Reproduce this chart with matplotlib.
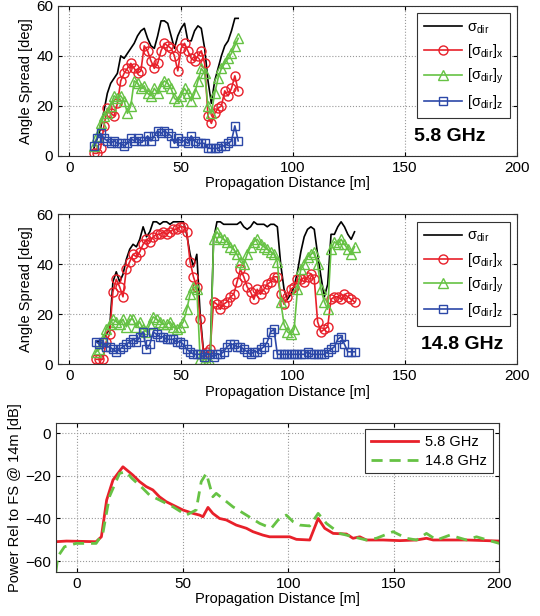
import matplotlib
matplotlib.use('Agg')
import numpy as np
from matplotlib import pyplot as plt

plt.rcParams['font.family'] = ['Liberation Sans', 'DejaVu Sans']
plt.rcParams['mathtext.default'] = 'regular'
plt.rcParams['font.size'] = 10

# 5.8 GHz angle spread
d_58 = [11, 12.5, 14, 15.5, 17, 18.5, 20, 21.5, 23, 24.5, 26, 27.5, 29, 30.5, 32, 33.5, 35, 36.5, 38, 39.5,
        41, 42.5, 44, 45.5, 47, 48.5, 50, 51.5, 53, 54.5, 56, 57.5, 59, 60.5, 62, 63.5, 65, 66.5, 68, 69.5,
        71, 72.5, 74, 75.5]
sig_58 = [3, 7, 11, 18, 25, 29, 31, 33, 40, 39, 41, 43, 45, 48, 50, 51, 47, 44, 43, 48,
          54, 54, 53, 48, 43, 48, 51, 53, 46, 46, 50, 52, 51, 43, 30, 21, 30, 35, 40, 44,
          46, 50, 55, 55]
sx_58 = [1, 1, 3, 12, 19, 17, 16, 21, 30, 33, 35, 37, 35, 33, 34, 44, 42, 38, 35, 37,
         42, 45, 44, 43, 40, 34, 43, 45, 42, 39, 38, 40, 42, 37, 16, 13, 17, 19, 20, 26,
         24, 27, 32, 26]
sy_58 = [4, 8, 13, 16, 17, 20, 24, 23, 24, 22, 17, 20, 30, 29, 27, 28, 25, 24, 27, 25,
         28, 30, 29, 27, 23, 22, 24, 27, 25, 22, 25, 30, 35, 33, 20, 17, 25, 31, 35, 37,
         39, 41, 44, 47]
sz_58 = [4, 7, 9, 7, 6, 5, 6, 5, 5, 4, 5, 7, 6, 7, 6, 6, 8, 6, 8, 10,
         9, 10, 9, 8, 5, 7, 6, 6, 5, 8, 6, 5, 5, 5, 3, 3, 3, 3, 4, 4,
         5, 6, 12, 6]

# 14.8 GHz angle spread
d_148 = [12, 13.5, 15, 16.5, 18, 19.5, 21, 22.5, 24, 25.5, 27, 28.5, 30, 31.5, 33, 34.5, 36, 37.5, 39, 40.5,
         42, 43.5, 45, 46.5, 48, 49.5, 51, 52.5, 54, 55.5, 57, 58.5, 60, 61.5, 63, 64.5, 66, 67.5, 69, 70.5,
         72, 73.5, 75, 76.5, 78, 79.5, 81, 82.5, 84, 85.5, 87, 88.5, 90, 91.5, 93, 94.5, 96, 97.5, 99, 100.5,
         102, 103.5, 105, 106.5, 108, 109.5, 111, 112.5, 114, 115.5, 117, 118.5, 120, 121.5, 123, 124.5, 126, 127.5]
sig_148 = [9, 9, 10, 12, 14, 33, 37, 33, 36, 42, 46, 48, 47, 50, 55, 51, 53, 57, 57, 56,
           57, 57, 56, 57, 57, 57, 57, 52, 44, 39, 44, 20, 5, 4, 4, 50, 57, 57, 56, 56,
           56, 56, 56, 57, 55, 54, 55, 57, 56, 56, 56, 55, 56, 56, 55, 40, 30, 26, 28, 31,
           37, 45, 51, 54, 55, 54, 44, 35, 27, 32, 52, 52, 55, 57, 55, 52, 50, 53]
sx_148 = [2, 2, 2, 9, 12, 29, 34, 31, 27, 38, 41, 44, 43, 45, 48, 50, 49, 51, 52, 52,
          53, 52, 53, 54, 54, 55, 55, 53, 41, 35, 31, 18, 4, 5, 6, 25, 24, 22, 24, 25,
          27, 28, 33, 38, 35, 31, 29, 26, 30, 28, 30, 32, 33, 35, 35, 28, 24, 27, 30, 31,
          34, 34, 33, 35, 36, 34, 17, 13, 14, 15, 26, 27, 27, 26, 28, 27, 26, 25]
sy_148 = [5, 6, 10, 14, 16, 18, 17, 16, 18, 15, 18, 18, 15, 17, 14, 13, 16, 19, 18, 17,
          16, 16, 17, 15, 14, 15, 17, 22, 28, 31, 30, 2, 1, 1, 1, 50, 53, 51, 50, 49,
          47, 46, 44, 41, 40, 44, 47, 49, 50, 48, 47, 46, 45, 44, 41, 25, 16, 13, 12, 14,
          30, 38, 40, 43, 44, 45, 40, 30, 25, 22, 46, 49, 48, 50, 48, 46, 44, 47]
sz_148 = [9, 8, 9, 7, 7, 6, 5, 6, 7, 8, 9, 10, 9, 11, 13, 6, 8, 13, 12, 11,
          11, 10, 10, 10, 9, 9, 8, 6, 5, 4, 4, 4, 3, 4, 4, 3, 4, 4, 5, 7,
          8, 8, 7, 7, 6, 5, 4, 5, 5, 6, 7, 9, 13, 14, 4, 4, 4, 4, 4, 4,
          4, 4, 4, 5, 4, 4, 4, 4, 4, 5, 6, 7, 10, 11, 8, 5, 5, 5]

# power relative to free space
d_p58 = [-10, -5, 9, 11.5, 14, 17, 21.7, 26.4, 29.6, 32.7, 35.9, 39, 42.2, 45.4, 50.1, 54.9, 58, 59.6, 62,
         64.3, 67.5, 70.7, 75.4, 80.2, 83.3, 88, 91.2, 100.7, 103.9, 110.2, 114.2, 117.3, 121.3, 127.6,
         130.7, 133.9, 137, 145, 152.9, 160.8, 165.5, 168.7, 184.5, 200]
p_58 = [-50.9, -50.6, -50.9, -48.6, -31.3, -21.9, -15.7, -19.6, -22.7, -25, -26.6, -29.8, -32.1, -33.7,
        -36, -37.6, -38.4, -39.2, -34.8, -37.6, -40, -40.7, -43.1, -44.6, -46.2, -47.8, -48.6, -48.6,
        -49.8, -50.1, -40, -44.6, -47, -47.3, -49.3, -48.6, -50.1, -50.1, -50.4, -50.1, -49.3, -50.1,
        -50.1, -50.6]
d_p148 = [-10, -9.2, -6, -0.5, 9, 12.2, 15.3, 20.1, 23.2, 25.9, 31.1, 34.3, 39, 45.4, 51.7, 56.4, 58.8,
          61.2, 64.3, 65.9, 73.8, 80.2, 86.5, 92, 95.2, 99.1, 102.3, 105.5, 110.2, 114.2, 118.1, 124.4,
          130.7, 137, 141.8, 149.7, 156, 160.8, 165.5, 170.3, 176.6, 184.5, 189.2, 200]
p_148 = [-65, -58, -53.3, -51.7, -51.7, -47, -29.8, -18.8, -18, -21.1, -25.8, -29, -31.3, -34.5, -38.4,
         -36, -22.7, -18.8, -29.8, -28.2, -34.5, -38.4, -42.3, -44.6, -40.7, -38.4, -41.5, -43.1, -43.5,
         -37.6, -42.3, -47, -48.6, -50.1, -49.3, -46.2, -49.3, -50.1, -47, -50.1, -47.8, -50.1, -48.6,
         -51.7]

RED = '#e8202a'
GREEN = '#66c244'
BLUE = '#2c48a8'


def style_axes(ax, xlim, ylim, yticks):
    ax.set_xlim(xlim)
    ax.set_ylim(ylim)
    ax.set_xticks([0, 50, 100, 150, 200])
    ax.set_yticks(yticks)
    ax.tick_params(direction='in', top=True, right=True, length=3, labelsize=11)
    ax.grid(True, linestyle=':', color='#999999', linewidth=0.8)
    for s in ax.spines.values():
        s.set_color('#333333')
        s.set_linewidth(0.8)
    ax.set_xlabel('Propagation Distance [m]', fontsize=10.5, labelpad=1)


def spread_panel(ax, d, sig, sx, sy, sz, tag, tag_x):
    ax.plot(d, sig, color='black', lw=1.2, label=r'$\sigma_{dir}$')
    ax.plot(d, sx, color=RED, lw=1.2, marker='o', ms=6.5, mfc='none', mew=1.0, label=r'$[\sigma_{dir}]_x$')
    ax.plot(d, sy, color=GREEN, lw=1.2, marker='^', ms=6.5, mfc='none', mew=1.0, label=r'$[\sigma_{dir}]_y$')
    ax.plot(d, sz, color=BLUE, lw=1.2, marker='s', ms=5.5, mfc='none', mew=1.0, label=r'$[\sigma_{dir}]_z$')
    style_axes(ax, (-5, 200), (0, 60), [0, 20, 40, 60])
    ax.set_ylabel('Angle Spread [deg]', fontsize=10.5, labelpad=2)
    leg = ax.legend(loc='upper right', bbox_to_anchor=(0.986, 0.952), fontsize=10.5, handlelength=2.6,
                    borderaxespad=0, fancybox=False, framealpha=1, edgecolor='#333333',
                    labelspacing=0.45, borderpad=0.5, handletextpad=0.3)
    leg.get_frame().set_linewidth(0.8)
    ax.text(tag_x, 0.13, tag, transform=ax.transAxes, ha='center', va='center',
            fontsize=14, fontweight='bold')


fig = plt.figure(figsize=(5.4, 6.16), dpi=100)
ax1 = fig.add_axes([0.1076, 0.747, 0.8493, 0.2435])
ax2 = fig.add_axes([0.1076, 0.4086, 0.8493, 0.2435])
ax3 = fig.add_axes([0.1037, 0.0719, 0.8209, 0.2419])

spread_panel(ax1, d_58, sig_58, sx_58, sy_58, sz_58, '5.8 GHz', 0.855)
spread_panel(ax2, d_148, sig_148, sx_148, sy_148, sz_148, '14.8 GHz', 0.88)

ax3.plot(d_p58, p_58, color=RED, lw=2.0, label='5.8 GHz')
ax3.plot(d_p148, p_148, color=GREEN, lw=2.0, linestyle=(0, (4, 2.5)), label='14.8 GHz')
style_axes(ax3, (-10, 200), (-65, 5), [-60, -40, -20, 0])
ax3.set_ylabel('Power Rel to FS @ 14m [dB]', fontsize=10.5, labelpad=2)
leg = ax3.legend(loc='upper right', bbox_to_anchor=(0.985, 0.955), fontsize=10.5, handlelength=3.2,
                 borderaxespad=0, fancybox=False, framealpha=1, edgecolor='#333333',
                 labelspacing=0.3, borderpad=0.4, handletextpad=0.5)
leg.get_frame().set_linewidth(0.8)

fig.savefig('out.png', dpi=100)
